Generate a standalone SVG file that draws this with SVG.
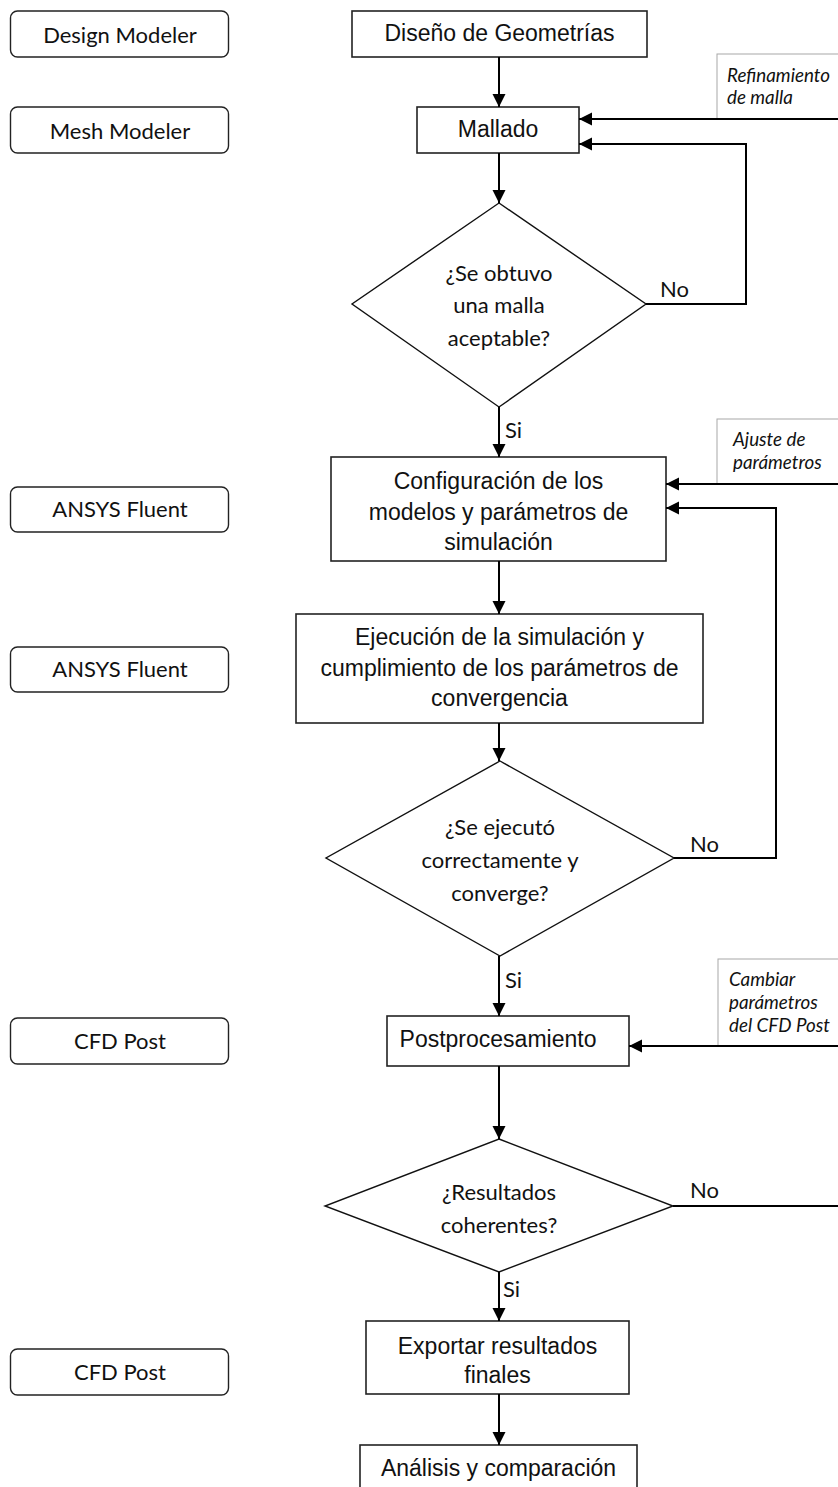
<svg xmlns="http://www.w3.org/2000/svg" width="838" height="1487" viewBox="0 0 838 1487">
<style>
.bg{fill:#fff}
.tool{fill:#fff;stroke:#222;stroke-width:1.4}
.box{fill:#fff;stroke:#222;stroke-width:1.6}
.dia{fill:#fff;stroke:#111;stroke-width:1.4}
.note{fill:#fff;stroke:#a8a8a8;stroke-width:1}
.conn{fill:none;stroke:#000;stroke-width:2}
.ct{font-family:Lato,'Open Sans',sans-serif;font-size:22px;fill:#111;text-anchor:middle}
.lb{font-family:Lato,'Open Sans',sans-serif;font-size:22px;fill:#111}
.at{font-family:'Liberation Sans',Arial,sans-serif;font-size:23px;fill:#111;text-anchor:middle}
.it{font-family:Lato,'Open Sans',sans-serif;font-size:18.8px;font-style:italic;fill:#111}
</style>
<defs>
<marker id="ah" markerUnits="userSpaceOnUse" markerWidth="14" markerHeight="14" viewBox="0 0 14 14" refX="13" refY="7" orient="auto">
<path d="M0,0.5 L13,7 L0,13.5 z" fill="#000"/>
</marker>
</defs>
<rect class="bg" x="0" y="0" width="838" height="1487"/>

<g id="notes">
<g id="note-refinamiento">
<rect class="note" x="717" y="54" width="140" height="65"/>
<text class="it" x="727" y="82">Refinamiento</text>
<text class="it" x="727" y="104">de malla</text>
</g>
<g id="note-ajuste">
<rect class="note" x="717" y="419" width="140" height="65"/>
<text class="it" x="733" y="446">Ajuste de</text>
<text class="it" x="733" y="469">parámetros</text>
</g>
<g id="note-cambiar">
<rect class="note" x="718" y="959" width="140" height="87"/>
<text class="it" x="729" y="986">Cambiar</text>
<text class="it" x="729" y="1009">parámetros</text>
<text class="it" x="729" y="1032">del CFD Post</text>
</g>
</g>

<g id="tool-design-modeler">
<rect class="tool" x="10.5" y="11" width="218" height="46" rx="7"/>
<text class="ct" x="120" y="43">Design Modeler</text>
</g>
<g id="tool-mesh-modeler">
<rect class="tool" x="10.5" y="107" width="218" height="46" rx="7"/>
<text class="ct" x="120" y="139">Mesh Modeler</text>
</g>
<g id="tool-ansys-1">
<rect class="tool" x="10.5" y="487" width="218" height="45" rx="7"/>
<text class="ct" x="120" y="517">ANSYS Fluent</text>
</g>
<g id="tool-ansys-2">
<rect class="tool" x="10.5" y="647" width="218" height="45" rx="7"/>
<text class="ct" x="120" y="677">ANSYS Fluent</text>
</g>
<g id="tool-cfd-1">
<rect class="tool" x="10.5" y="1018" width="218" height="46" rx="7"/>
<text class="ct" x="120" y="1049">CFD Post</text>
</g>
<g id="tool-cfd-2">
<rect class="tool" x="10.5" y="1349" width="218" height="46" rx="7"/>
<text class="ct" x="120" y="1380">CFD Post</text>
</g>

<g id="node-diseno">
<rect class="box" x="352" y="11" width="295" height="46"/>
<text class="at" x="499.5" y="41">Diseño de Geometrías</text>
</g>
<g id="node-mallado">
<rect class="box" x="417" y="107" width="162" height="46"/>
<text class="at" x="498" y="137">Mallado</text>
</g>
<g id="node-d1">
<polygon class="dia" points="499,203 646,304 499,407 352,304"/>
<text class="ct" x="499" y="281">¿Se obtuvo</text>
<text class="ct" x="499" y="313">una malla</text>
<text class="ct" x="499" y="346">aceptable?</text>
</g>
<g id="node-config">
<rect class="box" x="331" y="457" width="335" height="104"/>
<text class="at" x="498.5" y="489">Configuración de los</text>
<text class="at" x="498.5" y="520">modelos y parámetros de</text>
<text class="at" x="498.5" y="550">simulación</text>
</g>
<g id="node-ejecucion">
<rect class="box" x="296" y="614" width="407" height="109"/>
<text class="at" x="499.5" y="645">Ejecución de la simulación y</text>
<text class="at" x="499.5" y="676">cumplimiento de los parámetros de</text>
<text class="at" x="499.5" y="706">convergencia</text>
</g>
<g id="node-d2">
<polygon class="dia" points="500,761 674,858 500,956 326,858"/>
<text class="ct" x="500" y="835">¿Se ejecutó</text>
<text class="ct" x="500" y="868">correctamente y</text>
<text class="ct" x="500" y="901">converge?</text>
</g>
<g id="node-post">
<rect class="box" x="387" y="1016" width="242" height="50"/>
<text class="at" x="498" y="1047">Postprocesamiento</text>
</g>
<g id="node-d3">
<polygon class="dia" points="499,1139 673,1206 499,1272 325,1206"/>
<text class="ct" x="499" y="1200">¿Resultados</text>
<text class="ct" x="499" y="1233">coherentes?</text>
</g>
<g id="node-exportar">
<rect class="box" x="366" y="1321" width="263" height="73"/>
<text class="at" x="497.5" y="1354">Exportar resultados</text>
<text class="at" x="497.5" y="1383">finales</text>
</g>
<g id="node-analisis">
<rect class="box" x="360" y="1445" width="277" height="60"/>
<text class="at" x="498.5" y="1476">Análisis y comparación</text>
</g>

<g id="connectors">
<path class="conn" d="M499,57 V107" marker-end="url(#ah)"/>
<path class="conn" d="M499,153 V203" marker-end="url(#ah)"/>
<path class="conn" d="M499,407 V457" marker-end="url(#ah)"/>
<path class="conn" d="M646,304 H746 V144 H579" marker-end="url(#ah)"/>
<path class="conn" d="M840,119 H579" marker-end="url(#ah)"/>
<path class="conn" d="M499,561 V614" marker-end="url(#ah)"/>
<path class="conn" d="M499,723 V761" marker-end="url(#ah)"/>
<path class="conn" d="M674,858 H776 V508 H666" marker-end="url(#ah)"/>
<path class="conn" d="M840,484 H666" marker-end="url(#ah)"/>
<path class="conn" d="M499,956 V1016" marker-end="url(#ah)"/>
<path class="conn" d="M840,1046 H629" marker-end="url(#ah)"/>
<path class="conn" d="M499,1066 V1139" marker-end="url(#ah)"/>
<path class="conn" d="M673,1206 H840"/>
<path class="conn" d="M499,1272 V1321" marker-end="url(#ah)"/>
<path class="conn" d="M499,1394 V1445" marker-end="url(#ah)"/>
<text class="lb" x="660" y="297">No</text>
<text class="lb" x="505" y="438">Si</text>
<text class="lb" x="690" y="852">No</text>
<text class="lb" x="505" y="988">Si</text>
<text class="lb" x="690" y="1198">No</text>
<text class="lb" x="503" y="1297">Si</text>
</g>
</svg>
